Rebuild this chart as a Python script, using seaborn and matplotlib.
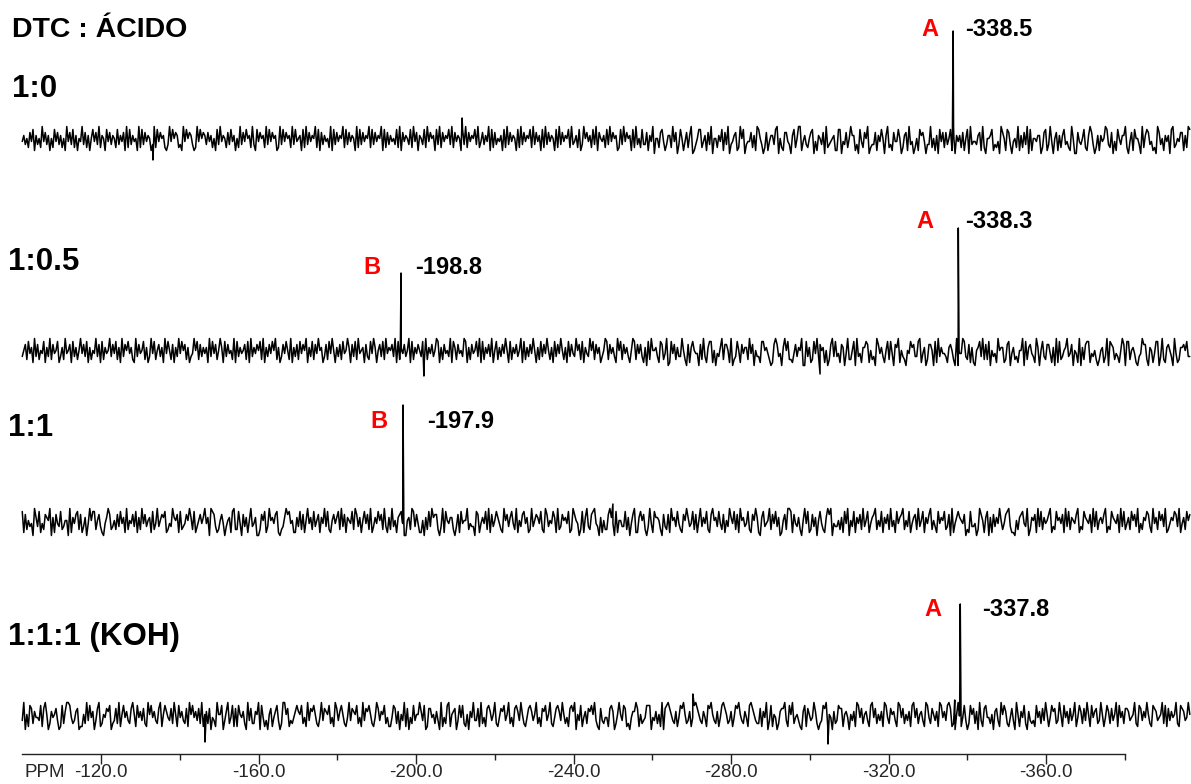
import numpy as np
import pandas as pd
import matplotlib
matplotlib.use("Agg")
import matplotlib.pyplot as plt
import seaborn as sns

# ---- data ----
ratios = ["1:0", "1:0.5", "1:1", "1:1:1 (KOH)"]

# baseline noise, one digit per sample (4.5 = baseline), estimated from the traces
noise_1 = (
    "463527481635294736152847362519473826154937261584739265184736"
    "528364719283645192837465139284756213948576231948576312948576"
    "374625183946527384615293748562931847562938475612938475629384"
    "561829374659281736452918374659283746519283746592837465918273"
    "645382917465382947165382947561839274658392746518392746583924"
    "736491827354618293746518293746582937461829374651829374658293"
    "462813957462839175462839475612839475618293"
    "528337164905527841366294703851472690135882461739055264817390"
    "346712958034472619853027146638905217743068259914632578041653"
    "709234561188043725966130842759023371648506923174485026719340"
    "251867403392516084727358190646271580934436719205568132409751"
    "873045291627390815546602781394057162683421950074358216973026"
    "164598327041853669204718553092687341209735164608923547716298"
)
noise_2 = (
    "357284619372548163927458136294571836259473816254937182645937"
    "482619375846219374582613948257361948527163948572613495827364"
    "619384725961837452918364572819364758291637485926137485291637"
    "284759163827495613728495163728459617382945617328496157382946"
    "573918264735918264753819264735981627453918627453981627458391"
    "826473915826374951826473591826374951628374952618374952618374"
    "395728164395827461359827463195827463159827"
    "473160829556318724901847263395207168544072931688150436927751"
    "902385174662947053318856420179734069582214736590083612849375"
    "615027938341760492258093416687152309746315828407691532054867"
    "338914602775081936443167520904498327161056839272805341956612"
    "780462315590826743196058327741609182356934705419062788143520"
    "256139087624315970882564103497720651488039216753094126675833"
)
noise_3 = (
    "817253409638142765906174382355091647827136049588257310469723"
    "527384619254738162947356182493576812439657182347596281357469"
    "460987312574035618922840736159346002758139564781023697845116"
    "382715946283571649382157468293716548297361584729136485729316"
    "293516784005629837411506283967720391854662037184559243308714"
    "648291735864219573684291537846129357648219735486192375648129"
    "754028169327894306152279640815533826047911685720394186652073"
    "271956384217596348271593648217956384271539648271956348217596"
    "106834592748360157299817436205948127360584216979043352618490"
    "538164729358146792538164729351846792538146729358164792531846"
    "582370914686547021833402975168061736495247893110526784390265"
    "719382645791328564719382654791328654719382564791328654719382"
    "462857391426587319462857391246587391462857"
)
noise_4 = (
    "390518726443817950264573018269984236701152938460379125476802"
    "372915846327951846372195846327915864372951846327195846372915"
    "627043195580369248171854620937226590841305714683029957132468"
    "658241937685214937658241973685214937658241937685214973658241"
    "148726053917042835596380177452630914289156703848215064933719"
    "241786359214768359241786395214786359241768359214786395241786"
    "905381462768593107324417860259538712046697152348880436251907"
    "897532614879523614897532641879532614897523614879532641897532"
    "271649038154026779318592453106817534962023879154062387715640"
    "536198472563189472536198427563198472536189472563198427536198"
    "463897120596148302857260931784425067319586214730951648206323"
    "184627395148672395184627359148627395184672395148627359184627"
    "763459218736495218763459281736459218763495"
)
noise = [noise_1, noise_2, noise_3, noise_4]
noise_scale = 1.5  # intensity units per digit step

# isolated tall noise spikes (ppm, intensity)
spike_ppm = [[-211.7, -133.2], [-202.0, -302.6], [-250.0], [-270.3, -304.6, -146.4, -336.8]]
spike_val = [[11.0, -10.0], [-12.0, -11.0], [9.0], [11.0, -14.0, -13.0, 8.0]]

# resonances (ppm on the drawn axis, height, letter, reported shift)
peak_ppm = [[-336.4], [-196.2, -337.7], [-196.7], [-338.2]]
peak_height = [[54.5], [39.5, 62.0], [58.5], [56.0]]
peak_letter = [["A"], ["B", "A"], ["B"], ["A"]]
peak_shift = [["-338.5"], ["-198.8", "-338.3"], ["-197.9"], ["-337.8"]]

# ---- layout ----
W, H = 1191, 784
offsets = [307, 201, 116, 19]
label_pos = [(12, 89), (8, 262), (8, 428), (8, 637)]
letter_pos = [[(930, 30)], [(372, 267), (925, 221)], [(379, 422)], [(933, 609)]]
shift_pos = [[(965, 30)], [(415, 267), (965, 221)], [(427, 422)], [(982, 609)]]

sns.set_theme(style="white")
plt.rcParams["font.family"] = ["Liberation Sans", "DejaVu Sans"]

fig = plt.figure(figsize=(W / 100, H / 100), dpi=100)
ax = fig.add_axes([0, 30 / H, 1, 754 / H])


def fx(px):
    return px / W


def fy(py):
    return 1 - py / H


for i, name in enumerate(ratios):
    vals = np.array([(int(c) - 4.5) * noise_scale for c in noise[i]])
    xs = np.linspace(-100.0, -396.5, len(vals))
    extra_x, extra_y = [], []
    for p, v in zip(spike_ppm[i], spike_val[i]):
        extra_x.append(p)
        extra_y.append(v)
    for p, h in zip(peak_ppm[i], peak_height[i]):
        extra_x += [p - 0.2, p, p + 0.2]
        extra_y += [0.5, h, 0.0]
    df = pd.DataFrame({"ppm": np.concatenate([xs, extra_x]),
                       "y": np.concatenate([vals, extra_y])}).sort_values("ppm")
    df["y"] = df["y"] + offsets[i]
    sns.lineplot(data=df, x="ppm", y="y", ax=ax, color="black", lw=1.1,
                 estimator=None, sort=False)

    lx, ly = label_pos[i]
    fig.text(fx(lx), fy(ly), name, ha="left", va="center",
             fontsize=22.5, fontweight="bold", color="black")
    for j in range(len(peak_ppm[i])):
        ax_, ay_ = letter_pos[i][j]
        fig.text(fx(ax_), fy(ay_), peak_letter[i][j], ha="center", va="center",
                 fontsize=17, fontweight="bold", color="#ff0000")
        sx, sy = shift_pos[i][j]
        fig.text(fx(sx), fy(sy), peak_shift[i][j], ha="left", va="center",
                 fontsize=17, fontweight="bold", color="black")

fig.text(fx(12), fy(30), "DTC : ÁCIDO", ha="left", va="center",
         fontsize=20.5, fontweight="bold", color="black")

ax.set_xlim(-94.35, -396.8)
ax.set_ylim(0, 377)
ax.set_facecolor("none")
for s in ["top", "left", "right"]:
    ax.spines[s].set_visible(False)
ax.spines["bottom"].set_bounds(-100, -380)
ax.spines["bottom"].set_color("#222222")
ax.spines["bottom"].set_linewidth(1.0)
major = np.arange(-120, -361, -40)
ax.set_xticks(major)
ax.set_xticklabels([f"{t:.1f}" for t in major])
ax.set_xticks(np.arange(-140, -381, -40), minor=True)
ax.tick_params(axis="x", which="major", length=7, width=1, pad=0.5,
               labelsize=13.5, color="#222222", bottom=True)
ax.tick_params(axis="x", which="minor", length=4.5, width=1, color="#222222", bottom=True)
ax.set_yticks([])
ax.set_xlabel("")
ax.set_ylabel("")
ax.grid(False)
# "PPM" sits just left of the first tick label, same baseline
fig.text(fx(25), fy(754 + 7.5 * 100 / 72), "PPM", ha="left", va="top", fontsize=13.5)

fig.savefig("out.png", dpi=100)
